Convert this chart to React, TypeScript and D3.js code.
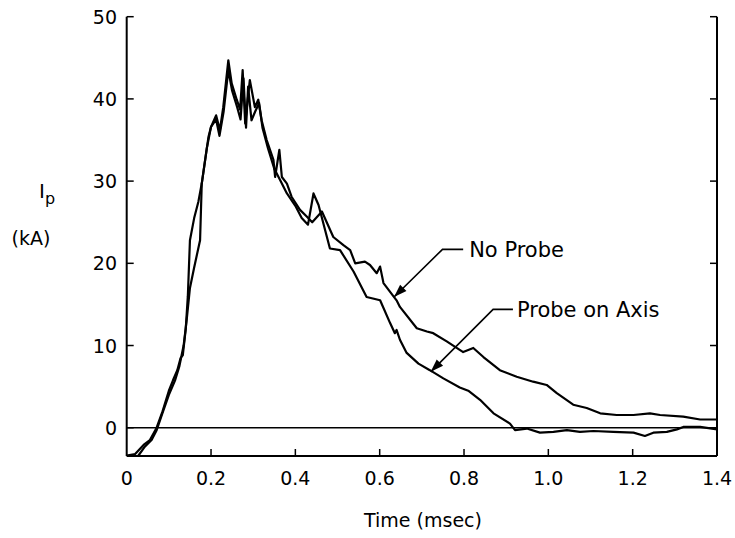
import React from 'react';
import * as d3 from 'd3';

// time (msec) and plasma current (kA)
const noProbeTime = [0, 0.02, 0.04, 0.055, 0.071, 0.085, 0.1, 0.11, 0.12, 0.128, 0.133, 0.14, 0.145, 0.15, 0.16, 0.17, 0.178, 0.19, 0.2, 0.212, 0.221, 0.229, 0.241, 0.249, 0.261, 0.269, 0.275, 0.281, 0.292, 0.304, 0.312, 0.32, 0.332, 0.348, 0.352, 0.362, 0.368, 0.38, 0.391, 0.411, 0.427, 0.44, 0.463, 0.49, 0.514, 0.53, 0.542, 0.565, 0.577, 0.593, 0.601, 0.609, 0.64, 0.648, 0.688, 0.712, 0.727, 0.759, 0.798, 0.822, 0.846, 0.885, 0.925, 0.964, 0.996, 1.02, 1.059, 1.091, 1.123, 1.162, 1.202, 1.241, 1.265, 1.32, 1.36, 1.4];
const noProbeCurrent = [-3.4, -3.2, -2.1, -1.5, 0, 2, 4.5, 5.8, 7, 8.5, 8.8, 12, 16, 22.8, 25.5, 27.5, 29.7, 34, 36.6, 38, 36.2, 39, 44.7, 41.9, 39.9, 38.7, 43.5, 37, 42.3, 39, 39.9, 37.4, 35, 32.6, 30.5, 33.8, 30.5, 29.7, 28.1, 26.5, 25.7, 25, 26.3, 23.2, 22.2, 21.6, 20, 20.2, 19.8, 18.8, 19.6, 17.6, 15.5, 14.7, 12.1, 11.7, 11.5, 10.5, 9.2, 9.7, 8.6, 7, 6.2, 5.6, 5.2, 4.2, 2.8, 2.4, 1.75, 1.55, 1.55, 1.75, 1.55, 1.34, 1.0, 1.0];

const probeTime = [0.027, 0.043, 0.059, 0.071, 0.085, 0.1, 0.115, 0.125, 0.135, 0.142, 0.15, 0.16, 0.174, 0.178, 0.194, 0.2, 0.212, 0.22, 0.23, 0.241, 0.25, 0.262, 0.27, 0.277, 0.283, 0.288, 0.296, 0.305, 0.314, 0.322, 0.335, 0.35, 0.365, 0.38, 0.4, 0.415, 0.43, 0.443, 0.455, 0.482, 0.506, 0.538, 0.569, 0.601, 0.625, 0.636, 0.64, 0.648, 0.664, 0.692, 0.719, 0.751, 0.79, 0.81, 0.838, 0.87, 0.909, 0.921, 0.949, 0.98, 1.012, 1.044, 1.075, 1.107, 1.154, 1.202, 1.229, 1.249, 1.281, 1.305, 1.32, 1.36, 1.4];
const probeCurrent = [-3.44, -2.3, -1.5, -0.3, 1.8, 4, 5.8, 7.5, 10, 13, 17, 19.5, 22.8, 29.7, 35.4, 36.6, 37.5, 35.5, 38.5, 43.5, 41, 39, 37.5, 42.5, 36.5, 41.5, 37.4, 38.5, 39.5, 36.5, 34, 31.5, 30, 28.5, 27, 25.5, 24.7, 28.5, 27.1, 21.8, 21.6, 19, 15.9, 15.5, 12.7, 11.5, 11.9, 10.7, 9.1, 7.8, 7, 6, 4.9, 4.5, 3.4, 1.75, 0.5, -0.3, -0.1, -0.6, -0.5, -0.3, -0.5, -0.4, -0.5, -0.6, -1.0, -0.6, -0.5, -0.2, 0.1, 0.1, -0.2];

const xTickValues = [0, 0.2, 0.4, 0.6, 0.8, 1.0, 1.2, 1.4];
const xTickLabels = ['0', '0.2', '0.4', '0.6', '0.8', '1.0', '1.2', '1.4'];
const yTickValues = [0, 10, 20, 30, 40, 50];
const yTickLabels = ['0', '10', '20', '30', '40', '50'];

// annotation arrows: [label point, elbow, tip] in data units
const noProbeArrow = [[0.798, 21.7], [0.749, 21.7], [0.634, 15.9]];
const probeArrow = [[0.916, 14.4], [0.869, 14.4], [0.721, 6.8]];

const font = '"DejaVu Sans", sans-serif';

const App = () => {
  const width = 735;
  const height = 538;

  const x = d3.scaleLinear().domain([0, 1.4]).range([126.7, 717]);
  const y = d3.scaleLinear().domain([-3.44, 50]).range([456, 16.7]);

  const line = d3.line<number[]>()
    .x(d => x(d[0]))
    .y(d => y(d[1]));

  const noProbe = noProbeTime.map((t, i) => [t, noProbeCurrent[i]]);
  const probe = probeTime.map((t, i) => [t, probeCurrent[i]]);

  const [x0, x1] = x.range();
  const [yb, yt] = y.range();

  const arrowHead = (pts: number[][]) => {
    const [ex, ey] = [x(pts[1][0]), y(pts[1][1])];
    const [tx, ty] = [x(pts[2][0]), y(pts[2][1])];
    const ang = Math.atan2(ty - ey, tx - ex);
    const len = 13, half = 4.5;
    const bx = tx - len * Math.cos(ang), by = ty - len * Math.sin(ang);
    const px = -Math.sin(ang) * half, py = Math.cos(ang) * half;
    return `M${tx},${ty}L${bx + px},${by + py}L${bx - px},${by - py}Z`;
  };

  const arrowLine = (pts: number[][]) =>
    'M' + pts.map(p => `${x(p[0])},${y(p[1])}`).join('L');

  return (
    <svg width={width} height={height} style={{ position: 'absolute', left: 0, top: 0, background: '#fff' }}>
      <rect width={width} height={height} fill="#fff" />
      {/* frame: left, right, bottom; no top rule */}
      <g stroke="#000" strokeWidth={2} fill="none">
        <line x1={x0} x2={x0} y1={yt} y2={yb} />
        <line x1={x1} x2={x1} y1={yt} y2={yb} />
        <line x1={x0} x2={x1} y1={yb} y2={yb} />
        <line x1={x0} x2={x1} y1={y(0)} y2={y(0)} strokeWidth={1.6} />
      </g>
      <g stroke="#000" strokeWidth={1.5}>
        {xTickValues.slice(1, -1).map(v => (
          <line key={'xt' + v} x1={x(v)} x2={x(v)} y1={yb} y2={yb - 7} />
        ))}
        {yTickValues.map(v => (
          <g key={'yt' + v}>
            <line x1={x0} x2={x0 + 7} y1={y(v)} y2={y(v)} />
            <line x1={x1} x2={x1 - 7} y1={y(v)} y2={y(v)} />
          </g>
        ))}
      </g>
      <g fontFamily={font} fontSize={19} fill="#000">
        {xTickValues.map((v, i) => (
          <text key={'xl' + v} x={x(v)} y={485} textAnchor="middle">{xTickLabels[i]}</text>
        ))}
        {yTickValues.map((v, i) => (
          <text key={'yl' + v} x={117} y={y(v) + 7} textAnchor="end">{yTickLabels[i]}</text>
        ))}
        <text x={423} y={527} textAnchor="middle">Time (msec)</text>
        <text x={31} y={245} textAnchor="middle">(kA)</text>
        <text x={39} y={198} fontSize={20}>I<tspan fontSize={16} dy={6}>p</tspan></text>
      </g>
      <g fill="none" stroke="#000" strokeWidth={2.2} strokeLinejoin="round">
        <path d={line(noProbe) || ''} />
        <path d={line(probe) || ''} />
      </g>
      <g stroke="#000" strokeWidth={1.6} fill="none">
        <path d={arrowLine(noProbeArrow)} />
        <path d={arrowLine(probeArrow)} />
      </g>
      <g fill="#000">
        <path d={arrowHead(noProbeArrow)} />
        <path d={arrowHead(probeArrow)} />
      </g>
      <g fontFamily={font} fontSize={21} fill="#000">
        <text x={x(noProbeArrow[0][0]) + 6} y={y(noProbeArrow[0][1]) + 8}>No Probe</text>
        <text x={x(probeArrow[0][0]) + 4} y={y(probeArrow[0][1]) + 8}>Probe on Axis</text>
      </g>
    </svg>
  );
};

export default App;
